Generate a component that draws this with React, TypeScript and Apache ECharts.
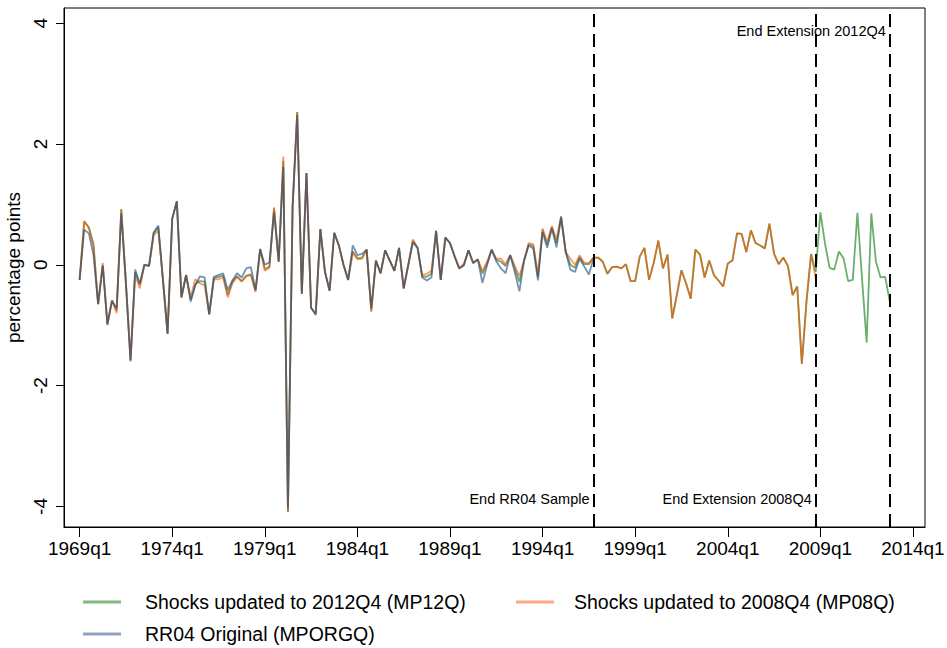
import React, { useEffect, useRef } from "react";
import * as echarts from "echarts";

// Quarterly monetary policy shocks, index 0 = 1969q1
const mp12q = [
  -0.25, 0.72, 0.62, 0.35, -0.65, 0.0, -0.98, -0.59, -0.76, 0.92,
  -0.3, -1.58, -0.12, -0.33, 0.0, -0.02, 0.52, 0.62, -0.25, -1.14,
  0.76, 1.05, -0.54, -0.17, -0.58, -0.32, -0.27, -0.28, -0.82, -0.22,
  -0.2, -0.18, -0.5, -0.28, -0.19, -0.27, -0.18, -0.16, -0.43, 0.26,
  -0.07, -0.03, 0.93, 0.05, 1.72, -4.09, 0.95, 2.53, -0.48, 1.52,
  -0.71, -0.81, 0.59, -0.12, -0.43, 0.53, 0.32, 0.0, -0.25, 0.22,
  0.11, 0.12, 0.25, -0.76, 0.07, -0.14, 0.24, 0.07, -0.1, 0.28,
  -0.39, 0.0, 0.4, 0.28, -0.19, -0.2, -0.15, 0.56, -0.25, 0.45,
  0.36, 0.14, -0.06, 0.0, 0.24, 0.03, 0.09, -0.15, 0.02, 0.25,
  0.08, 0.05, -0.02, 0.16, -0.06, -0.28, 0.07, 0.34, 0.31, -0.2,
  0.58, 0.33, 0.62, 0.36, 0.8, 0.21, 0.0, -0.05, 0.13, 0.01,
  0.01, 0.12, 0.12, 0.05, -0.15, -0.04, -0.03, -0.06, 0.01, -0.27,
  -0.27, 0.14, 0.28, -0.25, 0.03, 0.4, -0.06, 0.17, -0.89, -0.5,
  -0.09, -0.31, -0.56, 0.25, 0.17, -0.21, 0.07, -0.17, -0.26, -0.36,
  0.02, 0.07, 0.52, 0.51, 0.21, 0.57, 0.36, 0.32, 0.27, 0.68,
  0.18, 0.01, 0.12, -0.02, -0.5, -0.36, -1.64, -0.61, 0.18, -0.12,
  0.87, 0.35, -0.05, -0.08, 0.22, 0.11, -0.27, -0.25, 0.86, -0.23,
  -1.29, 0.85, 0.05, -0.21, -0.2, -0.61,
];

const mp08q = [
  -0.25, 0.72, 0.6, 0.3, -0.65, 0.03, -0.97, -0.59, -0.8, 0.92,
  -0.3, -1.58, -0.17, -0.39, 0.0, -0.02, 0.49, 0.57, -0.25, -1.14,
  0.76, 1.05, -0.54, -0.17, -0.53, -0.24, -0.31, -0.34, -0.82, -0.24,
  -0.24, -0.21, -0.54, -0.31, -0.2, -0.28, -0.19, -0.17, -0.45, 0.26,
  -0.1, -0.05, 0.95, 0.05, 1.79, -4.09, 0.95, 2.53, -0.48, 1.52,
  -0.71, -0.81, 0.59, -0.12, -0.43, 0.53, 0.32, 0.0, -0.25, 0.2,
  0.09, 0.1, 0.25, -0.78, 0.07, -0.14, 0.24, 0.07, -0.1, 0.28,
  -0.39, 0.0, 0.42, 0.28, -0.17, -0.15, -0.1, 0.56, -0.25, 0.45,
  0.36, 0.14, -0.06, 0.02, 0.24, 0.03, 0.09, -0.1, 0.05, 0.25,
  0.1, 0.1, 0.01, 0.16, -0.02, -0.19, 0.07, 0.36, 0.34, -0.16,
  0.6, 0.38, 0.64, 0.42, 0.8, 0.21, 0.1, 0.0, 0.16, 0.03,
  0.03, 0.12, 0.12, 0.05, -0.15, -0.04, -0.03, -0.06, 0.01, -0.27,
  -0.27, 0.14, 0.28, -0.25, 0.03, 0.4, -0.06, 0.17, -0.89, -0.5,
  -0.09, -0.31, -0.56, 0.25, 0.17, -0.21, 0.07, -0.17, -0.26, -0.36,
  0.02, 0.07, 0.52, 0.51, 0.21, 0.57, 0.36, 0.32, 0.27, 0.68,
  0.18, 0.01, 0.12, -0.02, -0.5, -0.36, -1.64, -0.61, 0.18, -0.23,
];

const mporgq = [
  -0.25, 0.58, 0.52, 0.16, -0.65, -0.02, -1.0, -0.6, -0.72, 0.85,
  -0.3, -1.6, -0.08, -0.31, 0.0, -0.02, 0.54, 0.65, -0.25, -1.14,
  0.76, 1.05, -0.54, -0.17, -0.61, -0.34, -0.19, -0.21, -0.82, -0.2,
  -0.17, -0.14, -0.42, -0.26, -0.14, -0.21, -0.06, -0.04, -0.42, 0.26,
  0.0, 0.04, 0.87, 0.05, 1.62, -4.03, 0.95, 2.48, -0.48, 1.52,
  -0.71, -0.83, 0.59, -0.12, -0.43, 0.53, 0.32, 0.0, -0.25, 0.32,
  0.16, 0.18, 0.25, -0.72, 0.07, -0.14, 0.24, 0.07, -0.1, 0.28,
  -0.39, 0.0, 0.37, 0.28, -0.21, -0.26, -0.21, 0.56, -0.25, 0.45,
  0.36, 0.14, -0.06, -0.01, 0.24, 0.03, 0.09, -0.3, -0.01, 0.25,
  0.06, -0.06, -0.14, 0.16, -0.12, -0.44, 0.07, 0.32, 0.27, -0.26,
  0.54, 0.28, 0.6, 0.29, 0.78, 0.21, -0.08, -0.12, 0.1, -0.03,
  -0.16, 0.1,
];

const seriesNames = [
  "Shocks updated to 2012Q4 (MP12Q)",
  "Shocks updated to 2008Q4 (MP08Q)",
  "RR04 Original (MPORGQ)",
];

const xTickLabels = [
  "1969q1", "1974q1", "1979q1", "1984q1", "1989q1",
  "1994q1", "1999q1", "2004q1", "2009q1", "2014q1",
];
const xTickValues = [0, 20, 40, 60, 80, 100, 120, 140, 160, 180];

const yTickValues = [-4, -2, 0, 2, 4];

// vertical reference lines (quarter index) and their annotations
const refLines = [111, 159, 175];
const refLabels = [
  { x: 111, y: -3.87, text: "End RR04 Sample" },
  { x: 159, y: -3.87, text: "End Extension 2008Q4" },
  { x: 175, y: 3.87, text: "End Extension 2012Q4" },
];

const FONT = "'Liberation Sans', Arial, Helvetica, sans-serif";

export default function App() {
  const ref = useRef<HTMLDivElement>(null);

  useEffect(() => {
    if (!ref.current) return;
    const chart = echarts.init(ref.current, undefined, { renderer: "svg" });
    const toPairs = (arr: number[]) => arr.map((v, i) => [i, v]);

    const lineColors = ["rgba(46,139,46,0.7)", "rgba(255,80,0,0.6)", "rgba(30,70,130,0.6)"];
    const legendColors = ["rgba(46,139,46,0.6)", "rgba(255,80,0,0.5)", "rgba(30,70,130,0.5)"];

    const legendBase = {
      padding: 0,
      icon: "rect",
      itemWidth: 38,
      itemHeight: 3,
    };

    const option: any = {
      animation: false,
      backgroundColor: "#fff",
      textStyle: { fontFamily: FONT, color: "#000" },
      grid: {
        left: 64,
        right: 22,
        top: 8,
        bottom: 121,
        containLabel: false,
        outerBoundsMode: "none",
        show: true,
        borderColor: "#000",
        borderWidth: 1,
        backgroundColor: "#fff",
      },
      legend: [
        {
          ...legendBase,
          data: [{ name: seriesNames[0], itemStyle: { color: legendColors[0] } }],
          left: 83,
          top: 592,
          textStyle: { fontSize: 19.5, fontFamily: FONT, color: "#000", padding: [0, 0, 0, 19] },
        },
        {
          ...legendBase,
          data: [{ name: seriesNames[1], itemStyle: { color: legendColors[1] } }],
          left: 516,
          top: 592,
          textStyle: { fontSize: 19.5, fontFamily: FONT, color: "#000", padding: [0, 0, 0, 15] },
        },
        {
          ...legendBase,
          data: [{ name: seriesNames[2], itemStyle: { color: legendColors[2] } }],
          left: 83,
          top: 624,
          textStyle: { fontSize: 19.5, fontFamily: FONT, color: "#000", padding: [0, 0, 0, 19] },
        },
      ],
      xAxis: {
        type: "value",
        min: -3.37,
        max: 182.6,
        splitLine: { show: false },
        axisLine: { show: true, onZero: false, lineStyle: { color: "#000", width: 1 } },
        axisTick: {
          show: true,
          customValues: xTickValues,
          length: 10,
          lineStyle: { color: "#000", width: 1 },
        },
        axisLabel: {
          customValues: xTickValues,
          formatter: (v: number) => xTickLabels[xTickValues.indexOf(Math.round(v))] ?? "",
          fontSize: 19,
          fontFamily: FONT,
          color: "#000",
          margin: 12,
        },
      },
      yAxis: {
        type: "value",
        min: -4.34,
        max: 4.25,
        splitLine: { show: false },
        axisLine: { show: true, onZero: false, lineStyle: { color: "#000", width: 1 } },
        axisTick: {
          show: true,
          customValues: yTickValues,
          length: 8,
          lineStyle: { color: "#000", width: 1 },
        },
        axisLabel: {
          customValues: yTickValues,
          rotate: 90,
          fontSize: 19,
          fontFamily: FONT,
          color: "#000",
          margin: 14,
        },
        name: "percentage points",
        nameLocation: "middle",
        nameRotate: 90,
        nameGap: 36,
        nameTextStyle: { fontSize: 19, fontFamily: FONT, color: "#000" },
      },
      series: [
        {
          name: seriesNames[0],
          type: "line",
          data: toPairs(mp12q),
          symbol: "none",
          color: lineColors[0],
          lineStyle: { width: 1.8, color: lineColors[0] },
          markLine: {
            silent: true,
            symbol: "none",
            label: { show: false },
            lineStyle: { color: "#000", width: 2, type: [13, 7] },
            data: refLines.map((x) => ({ xAxis: x })),
          },
          markPoint: {
            silent: true,
            symbol: "circle",
            symbolSize: 0,
            data: refLabels.map((r) => ({
              coord: [r.x, r.y],
              label: {
                show: true,
                formatter: r.text,
                position: "left",
                distance: 4,
                fontSize: 14.5,
                fontFamily: FONT,
                color: "#000",
              },
            })),
          },
        },
        {
          name: seriesNames[1],
          type: "line",
          data: toPairs(mp08q),
          symbol: "none",
          color: lineColors[1],
          lineStyle: { width: 1.8, color: lineColors[1] },
        },
        {
          name: seriesNames[2],
          type: "line",
          data: toPairs(mporgq),
          symbol: "none",
          color: lineColors[2],
          lineStyle: { width: 1.8, color: lineColors[2] },
        },
      ],
    };
    chart.setOption(option);
    return () => chart.dispose();
  }, []);

  return (
    <div
      ref={ref}
      style={{ position: "fixed", left: 0, top: 0, width: 947, height: 648, background: "#fff" }}
    />
  );
}
